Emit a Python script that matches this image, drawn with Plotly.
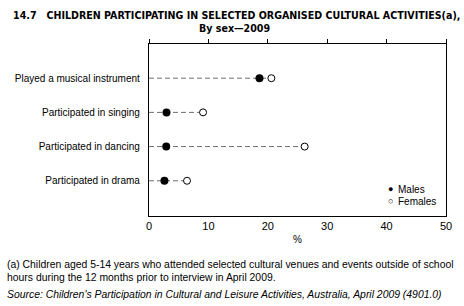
import plotly.graph_objects as go

categories = ["Participated in drama", "Participated in dancing",
              "Participated in singing", "Played a musical instrument"]
males = [2.6, 2.9, 2.95, 18.6]
females = [6.4, 26.2, 9.1, 20.6]
x_ticks = [0, 10, 20, 30, 40, 50]

ypos = list(range(len(categories)))
TXT = "Liberation Sans, Arial, sans-serif"
NARROW = "DejaVu Sans Condensed, Liberation Sans Narrow, sans-serif"

fig = go.Figure()

# dashed connector lines from axis to the further point
for i, (m, f) in enumerate(zip(males, females)):
    fig.add_trace(go.Scatter(
        x=[0, max(m, f)], y=[ypos[i], ypos[i]], mode="lines",
        line=dict(color="#6e6e6e", width=1, dash="5px,3px"),
        showlegend=False, hoverinfo="skip"))

fig.add_trace(go.Scatter(
    x=males, y=ypos, mode="markers", name="Males",
    marker=dict(symbol="circle", size=8, color="black"),
    showlegend=False))
fig.add_trace(go.Scatter(
    x=females, y=ypos, mode="markers", name="Females",
    marker=dict(symbol="circle", size=7, color="white",
                line=dict(color="black", width=1)),
    showlegend=False))
# dummy trace to activate top axis
fig.add_trace(go.Scatter(x=[None], y=[None], xaxis="x2", showlegend=False))

fig.update_layout(
    width=464, height=306,
    margin=dict(l=149, r=15, t=44, b=90),
    paper_bgcolor="white", plot_bgcolor="white",
    font=dict(family=TXT, size=10, color="black"),
    xaxis=dict(range=[0, 50], tickvals=x_ticks, showgrid=False, zeroline=False,
               showline=True, linecolor="black", linewidth=1.3, mirror=True,
               ticks="", tickfont=dict(size=11, family=TXT),
               title=dict(text="%", font=dict(size=10), standoff=4)),
    xaxis2=dict(range=[0, 50], tickvals=x_ticks, overlaying="x", side="top",
                showgrid=False, zeroline=False, showline=False,
                ticks="outside", ticklen=4, tickwidth=1.3, tickcolor="black",
                showticklabels=False),
    yaxis=dict(range=[-1.03, 4.0], tickvals=ypos, ticktext=categories,
               showgrid=False, zeroline=False, showline=True, linecolor="black",
               linewidth=1.3, mirror=True, ticks="", ticklabelstandoff=6,
               tickfont=dict(size=10, family=TXT)),
    showlegend=False,
)

anns = [
    dict(text="<b>14.7\u00a0\u00a0\u00a0CHILDREN PARTICIPATING IN SELECTED ORGANISED CULTURAL ACTIVITIES(a),</b>",
         x=10, y=306 - 7, xanchor="left", yanchor="top", font=dict(family=NARROW, size=10.6)),
    dict(text="<b>By sex\u20142009</b>",
         x=236, y=306 - 20, xanchor="center", yanchor="top", font=dict(family=NARROW, size=10.6)),
    dict(text="\u25cf", x=393, y=306 - 189, xanchor="center", yanchor="middle",
         font=dict(size=9)),
    dict(text="\u25cb", x=393, y=306 - 201, xanchor="center", yanchor="middle",
         font=dict(size=9)),
    dict(text="Males", x=398, y=306 - 189, xanchor="left", yanchor="middle",
         font=dict(size=10)),
    dict(text="Females", x=398, y=306 - 201, xanchor="left", yanchor="middle",
         font=dict(size=10)),
    dict(text="(a) Children aged 5-14 years who attended selected cultural venues and events outside of school",
         x=4, y=306 - 257, xanchor="left", yanchor="top", font=dict(size=10.4)),
    dict(text="hours during the 12 months prior to interview in April 2009.",
         x=4, y=306 - 270, xanchor="left", yanchor="top", font=dict(size=10.4)),
    dict(text="<i>Source: Children's Participation in Cultural and Leisure Activities, Australia, April 2009 (4901.0)</i>",
         x=4, y=306 - 287, xanchor="left", yanchor="top", font=dict(size=10.4)),
]
for a in anns:
    a["xref"] = "paper"; a["yref"] = "paper"
    a["x"] = (a["x"] - 149) / 300.0
    a["y"] = (a["y"] - 90) / (306 - 44 - 90)
    a["showarrow"] = False
    a["align"] = "left"
fig.update_layout(annotations=anns)

fig.write_html("out.html")
